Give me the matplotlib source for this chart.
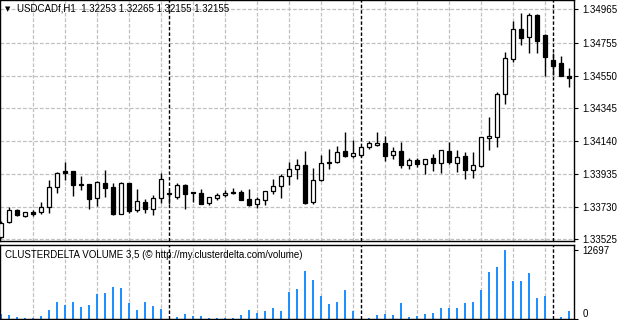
import numpy as np
import matplotlib
matplotlib.use("Agg")
import matplotlib.pyplot as plt

# ── DATA (H1 bars) ───────────────────────────────────────────────────
opens = [1.33541, 1.33631, 1.33708, 1.33673, 1.33696, 1.33694, 1.33725, 1.33850,
         1.33953, 1.33951, 1.33870, 1.33871, 1.33782, 1.33876, 1.33850, 1.33685,
         1.33877, 1.33710, 1.33758, 1.33717, 1.33785, 1.33810, 1.33788, 1.33863,
         1.33821, 1.33813, 1.33750, 1.33782, 1.33800, 1.33821, 1.33819, 1.33775,
         1.33744, 1.33769, 1.33825, 1.33857, 1.33919, 1.33963, 1.33988, 1.33757,
         1.33894, 1.34009, 1.34007, 1.34076, 1.34045, 1.34051, 1.34101, 1.34113,
         1.34128, 1.34051, 1.34076, 1.33988, 1.34020, 1.33996, 1.34032, 1.34001,
         1.34076, 1.34001, 1.34045, 1.33957, 1.33982, 1.34157, 1.34163, 1.34436,
         1.34652, 1.34840, 1.34793, 1.34927, 1.34806, 1.34646, 1.34629, 1.34545]
highs = [1.33640, 1.33725, 1.33715, 1.33696, 1.33708, 1.33758, 1.33896, 1.33948,
         1.34011, 1.33953, 1.33921, 1.33873, 1.33890, 1.33959, 1.33876, 1.33884,
         1.33879, 1.33840, 1.33775, 1.33802, 1.33938, 1.33834, 1.33876, 1.33871,
         1.33823, 1.33838, 1.33790, 1.33813, 1.33832, 1.33844, 1.33834, 1.33838,
         1.33788, 1.33827, 1.33902, 1.33934, 1.34007, 1.34026, 1.34078, 1.33969,
         1.34053, 1.34090, 1.34111, 1.34197, 1.34145, 1.34103, 1.34140, 1.34197,
         1.34172, 1.34101, 1.34132, 1.34036, 1.34032, 1.34028, 1.34059, 1.34084,
         1.34132, 1.34082, 1.34070, 1.34070, 1.34165, 1.34292, 1.34445, 1.34698,
         1.34890, 1.34940, 1.34940, 1.34933, 1.34810, 1.34689, 1.34672, 1.34595]
lows = [1.33533, 1.33628, 1.33671, 1.33666, 1.33671, 1.33681, 1.33688, 1.33817,
        1.33896, 1.33798, 1.33834, 1.33717, 1.33733, 1.33792, 1.33679, 1.33683,
        1.33692, 1.33698, 1.33692, 1.33679, 1.33754, 1.33746, 1.33779, 1.33717,
        1.33760, 1.33744, 1.33742, 1.33773, 1.33792, 1.33811, 1.33769, 1.33735,
        1.33719, 1.33742, 1.33807, 1.33785, 1.33865, 1.33901, 1.33744, 1.33744,
        1.33892, 1.33963, 1.34001, 1.34043, 1.34036, 1.34038, 1.34092, 1.34107,
        1.34017, 1.34030, 1.33969, 1.33963, 1.33976, 1.33932, 1.33953, 1.33938,
        1.33995, 1.33944, 1.33901, 1.33907, 1.33976, 1.34082, 1.34105, 1.34374,
        1.34635, 1.34739, 1.34693, 1.34693, 1.34549, 1.34554, 1.34549, 1.34480]
closes = [1.33629, 1.33708, 1.33677, 1.33694, 1.33685, 1.33725, 1.33850, 1.33940,
          1.33942, 1.33867, 1.33868, 1.33779, 1.33884, 1.33848, 1.33683, 1.33877,
          1.33704, 1.33765, 1.33717, 1.33782, 1.33901, 1.33812, 1.33863, 1.33810,
          1.33813, 1.33746, 1.33788, 1.33800, 1.33813, 1.33813, 1.33773, 1.33740,
          1.33775, 1.33825, 1.33857, 1.33919, 1.33963, 1.33988, 1.33754, 1.33894,
          1.34001, 1.34001, 1.34070, 1.34045, 1.34063, 1.34101, 1.34126, 1.34126,
          1.34048, 1.34076, 1.33988, 1.34020, 1.33995, 1.34026, 1.34001, 1.34082,
          1.34007, 1.34038, 1.33957, 1.33988, 1.34163, 1.34172, 1.34433, 1.34662,
          1.34840, 1.34787, 1.34927, 1.34768, 1.34668, 1.34612, 1.34549, 1.34537]
volumes = [938, 694, 319, 131, 131, 506, 1631, 3131, 2625, 3131, 2194, 2625,
           4631, 4875, 5944, 5756, 2944, 1631, 3131, 2381, 1819, 0, 244, 881,
           506, 506, 56, 131, 131, 131, 694, 1631, 1069, 1444, 2006, 1444,
           5006, 5569, 8944, 7256, 4313, 2813, 3131, 5381, 1444, 0, 131, 694,
           881, 694, 2944, 319, 431, 881, 1069, 2006, 2006, 2006, 2944, 3131,
           5381, 8756, 9694, 12697, 7069, 7069, 8569, 3881, 4256, 0, 319, 1444]

price_ticks = [1.34965, 1.34755, 1.34550, 1.34345, 1.34140, 1.33935, 1.33730, 1.33525]
vol_ticks = [0, 12697]
day_breaks = [21, 45, 69]          # first bar of each new day
title = "USDCADf,H1  1.32253 1.32265 1.32155 1.32155"
vol_title = "CLUSTERDELTA VOLUME 3,5 (\u00a9 http://my.clusterdelta.com/volume)"

# ── FIGURE ───────────────────────────────────────────────────────────
plt.rcParams['font.family'] = ['Liberation Sans', 'DejaVu Sans']
W, H = 618, 320
fig = plt.figure(figsize=(W / 100, H / 100), dpi=100)
fig.patch.set_facecolor('white')

ax = fig.add_axes([0, (H - 241) / H, 574 / W, 241 / H])
axv = fig.add_axes([0, 1 / H, 574 / W, 74 / H])

x = np.arange(len(opens))
o, h, l, c = map(np.array, (opens, highs, lows, closes))
bull = c >= o
grid_x = np.arange(4, 72, 4)
GRID = dict(color='#c0c0c0', lw=0.9, ls=(0, (3, 1.5)), zorder=0)
DAY = dict(color='black', lw=1.0, ls=(0, (2.5, 1.5)), zorder=1)

# ── Price panel ──
for gx in grid_x:
    ax.axvline(gx, **GRID)
for gy in price_ticks:
    ax.axhline(gy, **GRID)
for d in day_breaks:
    ax.axvline(d, **DAY)

ax.vlines(x, l, h, color='black', lw=1.0, zorder=2)
ax.bar(x, np.abs(c - o), bottom=np.minimum(o, c), width=0.6,
       color=np.where(bull, 'white', 'black'), edgecolor='black',
       linewidth=0.9, zorder=3)

ax.set_xlim(-0.125, 71.625)
ax.set_ylim(1.35023 - 0.0000626 * 241, 1.35023)
ax.yaxis.tick_right()
ax.set_yticks(price_ticks)
ax.set_yticklabels([f"{t:.5f}" for t in price_ticks])
ax.set_xticks([])
ax.tick_params(axis='y', length=3, width=0.8, pad=3, labelsize=7)
for s in ax.spines.values():
    s.set_color('black')
    s.set_linewidth(1.0)

ax.text(0.009, 0.963, "\u25bc", transform=ax.transAxes, fontsize=5,
        family='DejaVu Sans', va='center', ha='left')
ax.text(0.03, 0.963, title, transform=ax.transAxes, fontsize=7,
        va='center', ha='left')

# ── Volume panel ──
for gx in grid_x:
    axv.axvline(gx, **GRID)
axv.axhline(0, **GRID)
for d in day_breaks:
    axv.axvline(d, **DAY)

axv.bar(x, volumes, width=0.3, color='#1e90ff', zorder=2)
axv.set_xlim(-0.125, 71.625)
axv.set_ylim(-40, 13690)
axv.yaxis.tick_right()
axv.set_yticks(vol_ticks)
axv.set_yticklabels([str(v) for v in vol_ticks])
axv.set_xticks([])
axv.tick_params(axis='y', length=3, width=0.8, pad=3, labelsize=7)
axv.get_yticklabels()[0].set_va('bottom')
for s in axv.spines.values():
    s.set_color('black')
    s.set_linewidth(1.0)

axv.text(0.009, 0.86, vol_title, transform=axv.transAxes, fontsize=7,
         va='center', ha='left')

fig.savefig("out.png", dpi=100)
